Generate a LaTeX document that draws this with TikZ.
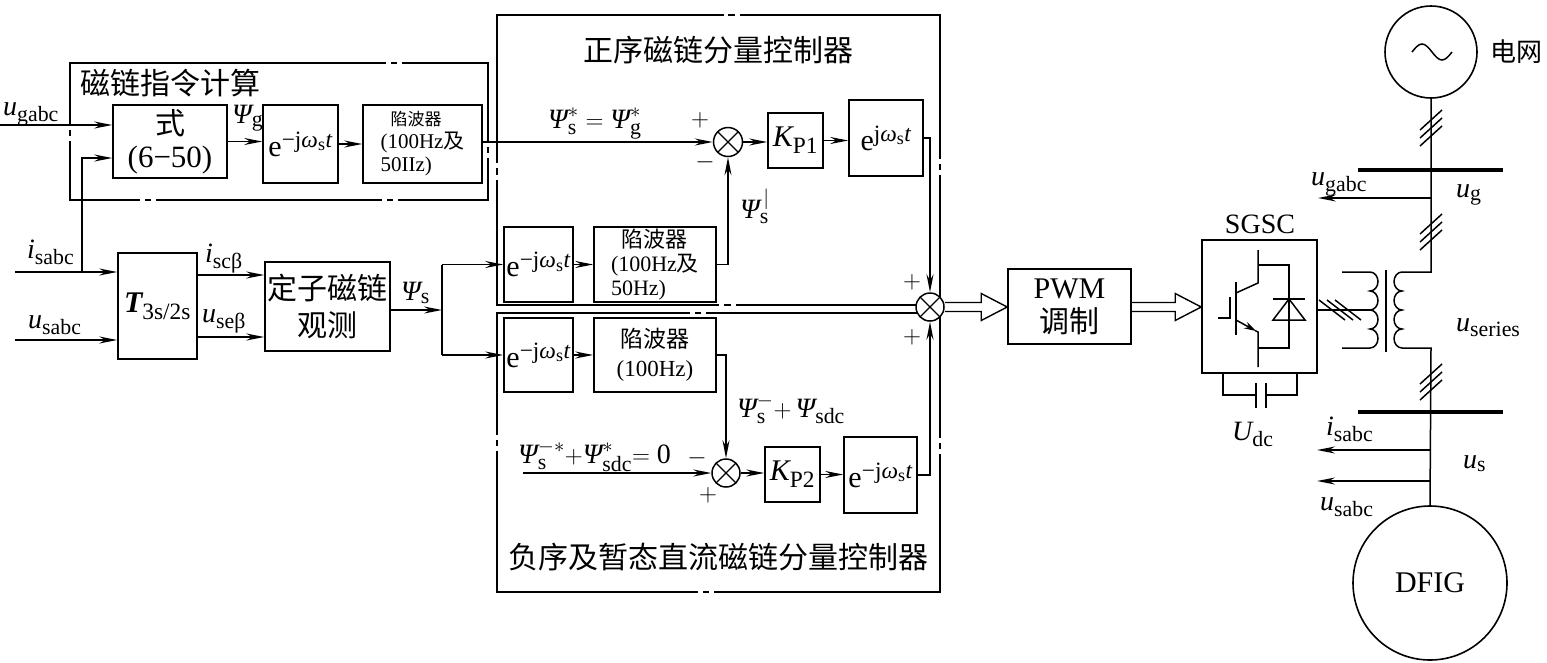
\documentclass[tikz,border=0pt]{standalone}
\usepackage{amsmath}
\usepackage{fontspec}
\setmainfont{Liberation Serif}
\newfontfamily\cjk{Noto Sans CJK SC}
\usetikzlibrary{arrows.meta,calc}
\renewcommand{\defaultscriptratio}{.78}
\renewcommand{\defaultscriptscriptratio}{.6}
\newcommand{\fsize}[2]{\fontsize{#1}{#2}\selectfont}
\newcommand{\tI}[1]{\text{\itshape #1}}
\newcommand{\tR}[1]{\text{\upshape #1}}
\newcommand{\Psy}{\tI{Ψ}}
\newcommand{\edgebrk}[3]{%
  \coordinate (bA) at (#1); \coordinate (bB) at (#2);
  \coordinate (bC) at ($(bA)!#3!(bB)$);
  \draw[bline] (bA) -- ($(bC)!9pt!(bA)$);
  \draw[bline] ($(bC)!2.5pt!(bA)$) -- ($(bC)!2.5pt!(bB)$);
  \draw[bline] ($(bC)!9pt!(bB)$) -- (bB);}
\newcommand{\hollowarrow}[2]{%
  \draw[line width=1.4pt,line join=miter] ($(#1)+(0,-4.5)$) -- ($(#2)+(-26,-4.5)$) -- ($(#2)+(-26,-13.5)$) -- (#2) -- ($(#2)+(-26,13.5)$) -- ($(#2)+(-26,4.5)$) -- ($(#1)+(0,4.5)$);}
\newcommand{\vslashes}[1]{%
  \foreach \d in {-8,0,8} \draw[ln] ($(#1)+(-11,10+\d)$) -- ($(#1)+(11,-10+\d)$);}
\newcommand{\hslashes}[1]{%
  \foreach \d in {-8,0,8} \draw[ln] ($(#1)+(-13+\d,-10)$) -- ($(#1)+(13+\d,10)$);}
\tikzset{
  ln/.style={line width=1.5pt},
  arr/.style={ln,-{Stealth[length=18pt,width=7pt,inset=6pt]}},
  blk/.style={draw,line width=1.6pt,inner sep=0pt,align=center},
  bline/.style={line width=1.6pt,line cap=rect},
  sumc/.style={circle,draw,fill=white,line width=1.5pt,minimum size=29pt,inner sep=0pt,
    path picture={\draw[line width=1.3pt] (path picture bounding box.north west)--(path picture bounding box.south east)
      (path picture bounding box.south west)--(path picture bounding box.north east);}},
  lbl/.style={inner sep=0pt,font=\fsize{28}{30}},
  pm/.style={inner sep=0pt,font=\fsize{24}{26}},
  ttl/.style={inner sep=0pt,font=\fsize{30}{33}\cjk}
}
\begin{document}
\begin{tikzpicture}[x=1pt,y=-1pt]
\useasboundingbox (0,0) rectangle (1547,662);
% dashed group frames
\edgebrk{70,63}{488,63}{0.775}
\edgebrk{488,63}{488,200}{0.635}
\edgebrk{70,200}{270,200}{0.39}
\edgebrk{270,200}{488,200}{0.55}
\edgebrk{70,63}{70,200}{0.51}
\edgebrk{497,15}{940,15}{0.53}
\edgebrk{940,15}{940,305}{0.524}
\edgebrk{497,305}{940,305}{0.52}
\edgebrk{497,15}{497,305}{0.54}
\edgebrk{497,313}{940,313}{0.454}
\edgebrk{940,313}{940,592}{0.477}
\edgebrk{497,592}{940,592}{0.472}
\edgebrk{497,313}{497,592}{0.466}
% blocks
\node[blk,minimum width=114,minimum height=73,font=\fsize{31}{33}] (cmd) at (170,141.5) {{\cjk\fsize{30}{33}式}\\(6−50)};
\node[blk,minimum width=75,minimum height=78,font=\fsize{30}{33}] (eg) at (300.5,144) {$\tR{e}^{\tR{−j}\tI{ω}_{\tR{s}}\tI{t}}$};
\node[blk,minimum width=119,minimum height=78,font=\fsize{21}{23},align=left] (nf1) at (422.5,144) {\hspace*{10pt}{\cjk\fsize{17}{23}陷波器}\\(100Hz{\cjk 及}\\50IIz)};
\node[blk,minimum width=79,minimum height=106,font=\fsize{30}{33}] (T) at (157.5,306) {$\text{\bfseries\itshape T}_{\tR{3s/2s}}$};
\node[blk,minimum width=125,minimum height=89,font=\fsize{30}{37}\cjk] (obs) at (327.5,306.5) {定子磁链\\观测};
\node[blk,minimum width=69,minimum height=75,font=\fsize{30}{33}] (pe) at (538.5,264.5) {$\tR{e}^{\tR{−j}\tI{ω}_{\tR{s}}\tI{t}}$};
\node[blk,minimum width=122,minimum height=75,font=\fsize{22}{24},align=left] (pn) at (655,264.5) {\hspace*{10pt}{\cjk 陷波器}\\(100Hz{\cjk 及}\\50Hz)};
\node[sumc] (s1) at (728,142) {};
\node[blk,minimum width=55,minimum height=55,font=\fsize{30}{33}] (kp1) at (795.5,140.5) {$\tI{K}_{\tR{P1}}$};
\node[blk,minimum width=74,minimum height=76,font=\fsize{30}{33}] (ep) at (886,138) {$\tR{e}^{\tR{j}\tI{ω}_{\tR{s}}\tI{t}}$};
\node[sumc,minimum size=28pt] (s2) at (930,307) {};
\node[blk,minimum width=69,minimum height=74,font=\fsize{30}{33}] (ne) at (538.5,355) {$\tR{e}^{\tR{−j}\tI{ω}_{\tR{s}}\tI{t}}$};
\node[blk,minimum width=122,minimum height=74,font=\fsize{23}{29}] (nn) at (655,355) {{\cjk 陷波器}\\(100Hz)};
\node[sumc,minimum size=28pt] (s3) at (726,473) {};
\node[blk,minimum width=55,minimum height=55,font=\fsize{30}{33}] (kp2) at (792.5,474.5) {$\tI{K}_{\tR{P2}}$};
\node[blk,minimum width=73,minimum height=76,font=\fsize{30}{33}] (en) at (880.5,475) {$\tR{e}^{\tR{−j}\tI{ω}_{\tR{s}}\tI{t}}$};
\node[blk,minimum width=123,minimum height=75,font=\fsize{30}{34}] (pwm) at (1069.5,306.5) {PWM\\{\cjk 调制}};
\node[blk,minimum width=115,minimum height=133] (sgsc) at (1259.5,306.5) {};
\node[circle,draw,line width=1.6pt,minimum size=92,inner sep=0pt] (grid) at (1431,52) {};
\node[circle,draw,line width=1.6pt,minimum size=154,inner sep=0pt,font=\fsize{30}{33}] (dfig) at (1430,583) {DFIG};
% helper coordinates
\coordinate (ugin) at (0,125);
\coordinate (iin) at (15,272);
\coordinate (uin) at (15,340);
\coordinate (ib) at (82,272);
\coordinate (ib2) at (82,158);
\coordinate (psb) at (442,310);
\coordinate (nref) at (523,473);
\coordinate (t1) at ($(T.east)+(0,-31)$);
\coordinate (t2) at ($(T.east)+(0,31)$);
% connectors
\draw[arr] (ugin) -- (ugin -| cmd.west);
\draw[arr] (iin) -- (iin -| T.west);
\draw[arr] (uin) -- (uin -| T.west);
\draw[arr] (ib) -- (ib2) -- (ib2 -| cmd.west);
\draw[arr] (cmd.east) -- (cmd.east -| eg.west);
\draw[arr] (eg.east) -- (nf1.west);
\draw[arr] (nf1.east |- s1.west) -- (s1.west);
\draw[arr] (s1.east) -- (s1.east -| kp1.west);
\draw[arr] (kp1.east) -- (kp1.east -| ep.west);
\draw[arr] (ep.east) -| (s2.north);
\draw[arr] (t1) -- (t1 -| obs.west);
\draw[arr] (t2) -- (t2 -| obs.west);
\draw[arr] (obs.east |- psb) -- (psb);
\draw[ln] (psb |- pe.west) -- (psb |- ne.west);
\draw[arr] (psb |- pe.west) -- (pe.west);
\draw[arr] (psb |- ne.west) -- (ne.west);
\draw[arr] (pe.east) -- (pn.west);
\draw[arr] (pn.east) -| (s1.south);
\draw[arr] (ne.east) -- (nn.west);
\draw[arr] (nn.east) -| (s3.north);
\draw[arr] (nref) -- (s3.west);
\draw[arr] (s3.east) -- (s3.east -| kp2.west);
\draw[arr] (kp2.east) -- (kp2.east -| en.west);
\draw[arr] (en.east) -| (s2.south);
% hollow arrows
\coordinate (h1) at (s2.east);
\coordinate (h2) at (pwm.west |- s2.east);
\coordinate (h3) at (pwm.east |- s2.east);
\coordinate (h4) at (sgsc.west |- s2.east);
\hollowarrow{h1}{h2}
\hollowarrow{h3}{h4}
% SGSC internals
\draw[ln] (1230,297) -- (1230,318) -- (1218,318);
\draw[ln] (1236,282) -- (1236,335);
\draw[ln] (1236,293) -- (1258,283) -- (1258,250);
\draw[ln,-{Stealth[length=12pt,width=7pt]}] (1236,320) -- (1256,331);
\draw[ln] (1255,330.5) -- (1258,332) -- (1258,367);
\draw[ln] (1258,265) -- (1289,265) -- (1289,348) -- (1258,348);
\draw[ln] (1273,299) -- (1305,299);
\draw[ln] (1289,299) -- (1273,320) -- (1305,320) -- cycle;
% capacitor
\draw[ln] (1223,373) -- (1223,395) -- (1256,395);
\draw[ln] (1266,395) -- (1297,395) -- (1297,373);
\draw[ln] (1256,383) -- (1256,408);
\draw[ln] (1266,383) -- (1266,408);
% transformer
\coordinate (pri) at (1370,310);
\draw[ln] (sgsc.east |- pri) -- (pri);
\coordinate (hs) at (1340,310);
\hslashes{hs}
\draw[ln] (1342,272) -- (1370,272)
  arc[start angle=-90,end angle=90,x radius=8,y radius=9.5]
  arc[start angle=-90,end angle=90,x radius=8,y radius=9.5]
  arc[start angle=-90,end angle=90,x radius=8,y radius=9.5]
  arc[start angle=-90,end angle=90,x radius=8,y radius=9.5] -- (1342,348);
\draw[ln] (1386,270) -- (1386,352);
\draw[ln] (grid.south) -- (1431,272) -- (1402,272)
  arc[start angle=-90,end angle=-270,x radius=8,y radius=9.5]
  arc[start angle=-90,end angle=-270,x radius=8,y radius=9.5]
  arc[start angle=-90,end angle=-270,x radius=8,y radius=9.5]
  arc[start angle=-90,end angle=-270,x radius=8,y radius=9.5] -- (1431,348) -- (dfig.north);
\coordinate (sl1) at (1431,128);
\coordinate (sl2) at (1431,232);
\coordinate (sl3) at (1431,382);
\vslashes{sl1}
\vslashes{sl2}
\vslashes{sl3}
% buses
\draw[line width=4.5pt] (1358,170) -- (1503,170);
\draw[line width=4.5pt] (1358,412) -- (1503,412);
\coordinate (tg) at (1431,198);
\coordinate (tge) at (1318,198);
\coordinate (ti) at (1431,450);
\coordinate (tie) at (1317,450);
\coordinate (tu) at (1431,481);
\coordinate (tue) at (1317,481);
\draw[arr] (tg) -- (tge);
\draw[arr] (ti) -- (tie);
\draw[arr] (tu) -- (tue);
% grid tilde
\draw[ln] (1412,52) sin (1422,44) cos (1432,52) sin (1442,60) cos (1452,52);
% labels
\node[lbl,anchor=base west] (lug) at (3,115) {$\tI{u}_{\tR{gabc}}$};
\node[ttl,anchor=west] (lcmd) at (80,83) {磁链指令计算};
\node[lbl,anchor=base west] (lpg) at (232,123) {$\Psy_{\tR{g}}$};
\node[lbl,anchor=base west] (lref1) at (548,128) {$\Psy_{\tR{s}}^{*}=\Psy_{\tR{g}}^{*}$};
\node[pm] (p1) at (700,120) {$+$};
\node[pm] (m1) at (705,162) {$-$};
\node[lbl,anchor=base west] (lpsp) at (740,218) {$\Psy_{\tR{s}}^{\,|}$};
\node[lbl,anchor=base west] (lps) at (401,300) {$\Psy_{\tR{s}}$};
\node[lbl,anchor=base west] (lis) at (27,258) {$\tI{i}_{\tR{sabc}}$};
\node[lbl,anchor=base west] (lus) at (28,328) {$\tI{u}_{\tR{sabc}}$};
\node[lbl,anchor=base west] (lia) at (205,262) {$\tI{i}_{\tR{scβ}}$};
\node[lbl,anchor=base west] (lua) at (202,322) {$\tI{u}_{\tR{seβ}}$};
\node[lbl,anchor=base west] (lpsn) at (737,417) {$\Psy_{\tR{s}}^{-}{+}\,\Psy_{\tR{sdc}}$};
\node[lbl,anchor=base west] (lref2) at (518,463) {$\Psy_{\tR{s}}^{-*}{+}\Psy_{\tR{sdc}}^{*}{=}\;\tR{0}$};
\node[pm] (m3) at (697,458) {$-$};
\node[pm] (p3) at (708,495) {$+$};
\node[pm] (p2a) at (912,282) {$+$};
\node[pm] (p2b) at (912,337) {$+$};
\node[ttl] (tpos) at (718,50) {正序磁链分量控制器};
\node[ttl] (tneg) at (718,557) {负序及暂态直流磁链分量控制器};
\node[lbl,anchor=base] (lsgsc) at (1260,233) {SGSC};
\node[lbl,anchor=base west] (ludc) at (1232,440) {$\tI{U}_{\tR{dc}}$};
\node[ttl,anchor=west,font=\fsize{26}{30}\cjk] (lgrid) at (1490,52) {电网};
\node[lbl,anchor=base west] (lug2) at (1311,185) {$\tI{u}_{\tR{gabc}}$};
\node[lbl,anchor=base west] (lug3) at (1456,197) {$\tI{u}_{\tR{g}}$};
\node[lbl,anchor=base west] (lser) at (1456,331) {$\tI{u}_{\tR{series}}$};
\node[lbl,anchor=base west] (lis2) at (1326,435) {$\tI{i}_{\tR{sabc}}$};
\node[lbl,anchor=base west] (lus3) at (1463,468) {$\tI{u}_{\tR{s}}$};
\node[lbl,anchor=base west] (lus2) at (1320,510) {$\tI{u}_{\tR{sabc}}$};
\end{tikzpicture}
\end{document}
